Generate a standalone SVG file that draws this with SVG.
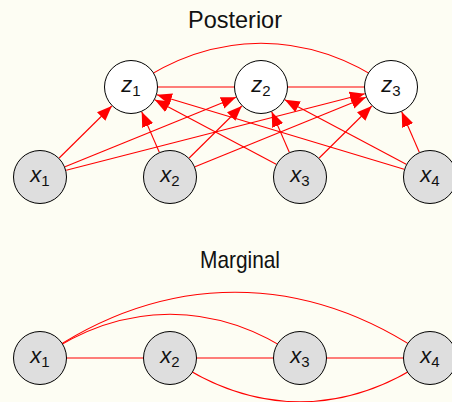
<svg xmlns="http://www.w3.org/2000/svg" width="452" height="402" viewBox="0 0 452 402">
<defs>
<style>
.bg{fill:#fdfdf3}
.e{fill:none;stroke:#ff0000;stroke-width:1.1}
.a{fill:none;stroke:#ff0000;stroke-width:1.1;marker-end:url(#ah)}
.obs{fill:#dedede;stroke:#000;stroke-width:1}
.lat{fill:#ffffff;stroke:#000;stroke-width:1}
.lbl{font-family:"Liberation Sans",Arial,sans-serif;font-size:22px;fill:#111;text-anchor:middle}
.lbl .v{font-style:italic}
.lbl .s{font-size:15px}
.title{font-family:"Liberation Sans",Arial,sans-serif;font-size:24px;fill:#111;text-anchor:middle}
</style>
<marker id="ah" markerUnits="userSpaceOnUse" markerWidth="16" markerHeight="13" refX="15" refY="6.5" orient="auto">
<path d="M0,0.5 L15,6.5 L0,12.5 z" fill="#ff0000"/>
</marker>
</defs>
<rect class="bg" x="0" y="0" width="452" height="402"/>
<text class="title" x="235" y="28" textLength="94" lengthAdjust="spacingAndGlyphs">Posterior</text>
<text class="title" x="240" y="268" textLength="80" lengthAdjust="spacingAndGlyphs">Marginal</text>
<g id="connectors">
<line class="e" x1="131" y1="87" x2="261" y2="87"/>
<line class="e" x1="261" y1="87" x2="391" y2="87"/>
<path class="e" d="M131,87 C214.4,28.6 307.6,28.6 391,87"/>
<line class="a" x1="59.2" y1="158" x2="111.8" y2="106"/>
<line class="a" x1="65" y1="166.8" x2="236" y2="97.2"/>
<line class="a" x1="66.2" y1="170.3" x2="364.8" y2="93.7"/>
<line class="a" x1="159.3" y1="152.2" x2="141.7" y2="111.8"/>
<line class="a" x1="189.2" y1="158" x2="241.8" y2="106"/>
<line class="a" x1="195" y1="166.8" x2="366" y2="97.2"/>
<line class="a" x1="276.2" y1="164.3" x2="154.8" y2="99.7"/>
<line class="a" x1="289.3" y1="152.2" x2="271.7" y2="111.8"/>
<line class="a" x1="319.2" y1="158" x2="371.8" y2="106"/>
<line class="a" x1="404.1" y1="169.2" x2="156.9" y2="94.8"/>
<line class="a" x1="406.2" y1="164.3" x2="284.8" y2="99.7"/>
<line class="a" x1="419.3" y1="152.2" x2="401.7" y2="111.8"/>
<line class="e" x1="40" y1="358" x2="170" y2="358"/>
<line class="e" x1="170" y1="358" x2="300" y2="358"/>
<line class="e" x1="300" y1="358" x2="430" y2="358"/>
<path class="e" d="M40,358 C123.4,299.6 216.6,299.6 300,358"/>
<path class="e" d="M40,358 C165.1,270.4 304.9,270.4 430,358"/>
<path class="e" d="M170,358 C253.4,416.4 346.6,416.4 430,358"/>
</g>
<g id="z1"><circle class="lat" cx="131" cy="87" r="26.5"/><text class="lbl" x="131" y="92"><tspan class="v">z</tspan><tspan class="s" dy="4">1</tspan></text></g>
<g id="z2"><circle class="lat" cx="261" cy="87" r="26.5"/><text class="lbl" x="261" y="92"><tspan class="v">z</tspan><tspan class="s" dy="4">2</tspan></text></g>
<g id="z3"><circle class="lat" cx="391" cy="87" r="26.5"/><text class="lbl" x="391" y="92"><tspan class="v">z</tspan><tspan class="s" dy="4">3</tspan></text></g>
<g id="px1"><circle class="obs" cx="40" cy="177" r="26.5"/><text class="lbl" x="40" y="182"><tspan class="v">x</tspan><tspan class="s" dy="4">1</tspan></text></g>
<g id="px2"><circle class="obs" cx="170" cy="177" r="26.5"/><text class="lbl" x="170" y="182"><tspan class="v">x</tspan><tspan class="s" dy="4">2</tspan></text></g>
<g id="px3"><circle class="obs" cx="300" cy="177" r="26.5"/><text class="lbl" x="300" y="182"><tspan class="v">x</tspan><tspan class="s" dy="4">3</tspan></text></g>
<g id="px4"><circle class="obs" cx="430" cy="177" r="26.5"/><text class="lbl" x="430" y="182"><tspan class="v">x</tspan><tspan class="s" dy="4">4</tspan></text></g>
<g id="mx1"><circle class="obs" cx="40" cy="358" r="26.5"/><text class="lbl" x="40" y="363"><tspan class="v">x</tspan><tspan class="s" dy="4">1</tspan></text></g>
<g id="mx2"><circle class="obs" cx="170" cy="358" r="26.5"/><text class="lbl" x="170" y="363"><tspan class="v">x</tspan><tspan class="s" dy="4">2</tspan></text></g>
<g id="mx3"><circle class="obs" cx="300" cy="358" r="26.5"/><text class="lbl" x="300" y="363"><tspan class="v">x</tspan><tspan class="s" dy="4">3</tspan></text></g>
<g id="mx4"><circle class="obs" cx="430" cy="358" r="26.5"/><text class="lbl" x="430" y="363"><tspan class="v">x</tspan><tspan class="s" dy="4">4</tspan></text></g>
</svg>
